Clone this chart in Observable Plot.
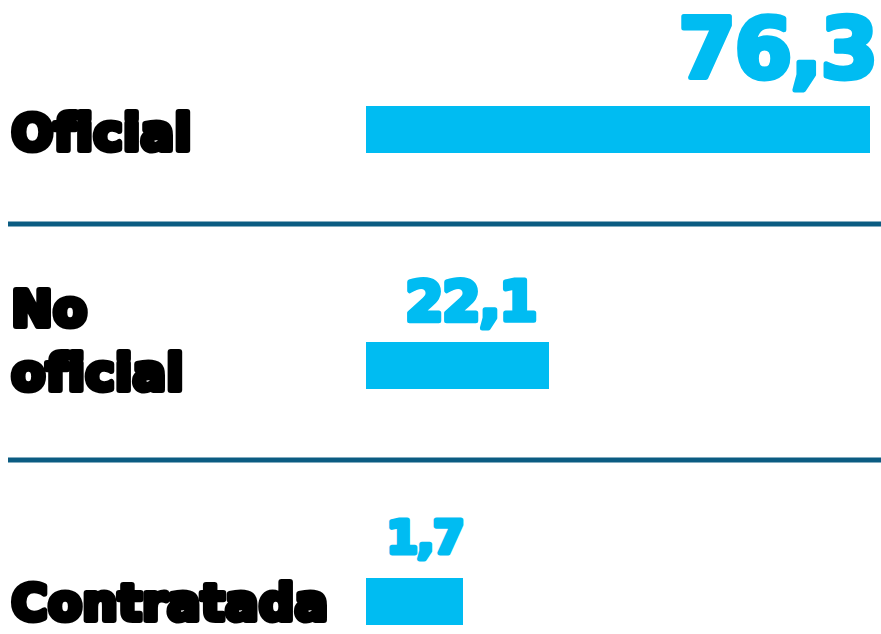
<!DOCTYPE html>
<html><head><meta charset="utf-8">
<script src="https://cdn.jsdelivr.net/npm/d3@7"></script>
<script src="https://cdn.jsdelivr.net/npm/@observablehq/plot@0.6"></script>
<style>
html,body{margin:0;padding:0;background:#fff;}
svg text, svg tspan{font-variant-ligatures:none;font-feature-settings:"liga" 0, "clig" 0;}
</style></head><body><div id="chart"></div>
<script>
const categories = ["Oficial", "No oficial", "Contratada"];
const categoryLabels = ["Oficial", "No\noficial", "Contratada"];
const values = [76.3, 22.1, 1.7];
const valueLabels = ["76,3", "22,1", "1,7"];
const separators = ["No oficial", "Contratada"];

const data = categories.map((c, i) => ({category: c, label: categoryLabels[i], value: values[i], text: valueLabels[i]}));

// per-row typographic styling (the reference sets each number at its own size)
const valueStyle = [
  {fontSize: 83, dx: 6, dy: -52},
  {fontSize: 55, dx: -13, dy: -46},
  {fontSize: 45, dx: 0, dy: -49}
];
const labelDy = [20, 24, 17.5];
const LABEL_COLOR = "#000000";
const VALUE_COLOR = "#00bcf2";

const chart = Plot.plot({
  width: 881, height: 634,
  marginLeft: 8, marginRight: 0, marginTop: 0, marginBottom: 0,
  style: {background: "#fff", overflow: "visible"},
  x: {type: "linear", domain: [0, 1.7, 22.1, 76.3], range: [366, 463, 549, 870], axis: null},
  y: {type: "band", domain: categories, range: [105, 625], paddingInner: 0.801, paddingOuter: 0, axis: null},
  marks: [
    Plot.ruleY(separators, {y: d => d, dy: -142, stroke: "#0b5c82", strokeWidth: 5}),
    Plot.barX(data, {y: "category", x: "value", fill: VALUE_COLOR}),
    ...data.map((d, i) => Plot.text([d], {
      y: "category", text: "label", frameAnchor: "left", textAnchor: "start",
      dx: 3, dy: labelDy[i], lineAnchor: "bottom", lineHeight: 1.31,
      fontSize: 49, fontWeight: "bold", fontFamily: "DejaVu Sans",
      fill: LABEL_COLOR, stroke: LABEL_COLOR, strokeWidth: 6, strokeLinejoin: "round"
    })),
    ...data.map((d, i) => Plot.text([d], {
      y: "category", x: "value", text: "text", textAnchor: "end",
      dx: valueStyle[i].dx, dy: valueStyle[i].dy, lineAnchor: "bottom",
      fontSize: valueStyle[i].fontSize, fontWeight: "bold", fontFamily: "DejaVu Sans",
      fill: VALUE_COLOR, stroke: VALUE_COLOR, strokeWidth: 5, strokeLinejoin: "round"
    }))
  ]
});
// letter spacing / no ligatures (not exposed as Plot options)
chart.querySelectorAll("text").forEach(t => {
  const g = t.closest("g[fill]");
  const fill = g ? (g.getAttribute("fill") || "").toLowerCase() : "";
  t.style.fontVariantLigatures = "none";
  if (fill === VALUE_COLOR) t.style.letterSpacing = "-0.02em";
  else if (fill === LABEL_COLOR) t.style.letterSpacing = "0.015em";
});
document.getElementById("chart").appendChild(chart);
</script></body></html>
